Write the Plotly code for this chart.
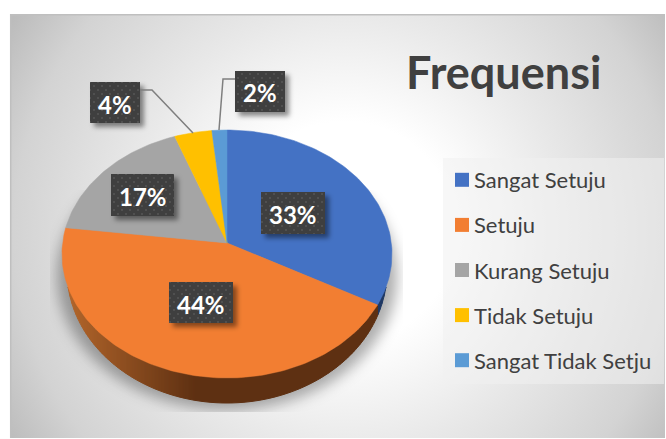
import base64
import numpy as np
import plotly.graph_objects as go

categories = ["Sangat Setuju", "Setuju", "Kurang Setuju", "Tidak Setuju", "Sangat Tidak Setju"]
values = [33, 44, 17.4, 4.0, 1.6]
percent_labels = ["33%", "44%", "17%", "4%", "2%"]
colors = ["#4472C4", "#F27E32", "#A5A5A5", "#FFC000", "#5B9BD5"]

W, H = 666, 439
CX, CY, RX, RY = 227, 254, 165, 124   # top face
BX, BY, BRX, BRY = 227, 271, 160, 132  # base outline
K = 0.089                              # perspective shift of the pie centre


def project(frac):
    """Fraction of the pie (clockwise from 12 o'clock) -> pixel position, in tilted perspective."""
    a = 2 * np.pi * np.asarray(frac)
    u, v = np.sin(a), np.cos(a)
    d = 1 + K * v
    X = u * np.sqrt(1 - K ** 2) / d
    Y = (v + K) / d
    return CX + RX * X, CY - RY * Y


def lerp_hex(a, b, t):
    ca = [int(a[i:i + 2], 16) for i in (1, 3, 5)]
    cb = [int(b[i:i + 2], 16) for i in (1, 3, 5)]
    return "#" + "".join(f"{round(p + (q - p) * t):02x}" for p, q in zip(ca, cb))


bg_svg = f"""<svg xmlns='http://www.w3.org/2000/svg' width='{W}' height='{H}' viewBox='0 0 {W} {H}'>
<defs>
<radialGradient id='g' gradientUnits='userSpaceOnUse' cx='345' cy='232' r='394'>
<stop offset='0' stop-color='#ffffff'/><stop offset='0.28' stop-color='#ffffff'/>
<stop offset='0.55' stop-color='#e9e9e9'/><stop offset='0.84' stop-color='#d3d3d3'/><stop offset='1' stop-color='#bcbcbc'/>
</radialGradient>
<filter id='b' x='-20%' y='-20%' width='140%' height='140%'><feGaussianBlur stdDeviation='7'/></filter>
<clipPath id='c'><rect x='50' y='190' width='353' height='222'/></clipPath>
</defs>
<rect width='{W}' height='{H}' fill='#ffffff'/>
<rect x='10' y='14' width='655' height='424' fill='url(#g)'/>
<path d='M10.7 438 V14.7 H665' fill='none' stroke='#bfbfbf' stroke-width='1.5'/>
<g clip-path='url(#c)'><ellipse cx='227' cy='276' rx='170' ry='134' fill='#000000' fill-opacity='0.32' filter='url(#b)'/></g>
</svg>"""

boxes = [(261, 192, 64, 42), (169, 282, 64, 41), (111, 174, 63, 42), (90, 82, 50, 41), (235, 71, 50, 41)]
box_svg = "".join(
    f"<rect x='{x+4}' y='{y+4}' width='{w}' height='{h}' fill='#000' fill-opacity='0.45' filter='url(#s)'/>"
    f"<rect x='{x}' y='{y}' width='{w}' height='{h}' fill='url(#p)'/>" for x, y, w, h in boxes)
over_svg = f"""<svg xmlns='http://www.w3.org/2000/svg' width='{W}' height='{H}' viewBox='0 0 {W} {H}'>
<defs>
<pattern id='p' width='8' height='8' patternUnits='userSpaceOnUse'>
<rect width='8' height='8' fill='#3f3f3f'/><circle cx='2' cy='2' r='1' fill='#555555'/><circle cx='6' cy='6' r='1' fill='#555555'/></pattern>
<filter id='s' x='-30%' y='-30%' width='160%' height='160%'><feGaussianBlur stdDeviation='2.5'/></filter>
</defs>{box_svg}</svg>"""


def data_uri(svg):
    return "data:image/svg+xml;base64," + base64.b64encode(svg.encode()).decode()


fig = go.Figure()
cum = np.concatenate([[0], np.cumsum(values)]) / sum(values)

# side wall: vertical strips between top-face edge and base outline
split_x = project(cum[1])[0]
xs = np.arange(66, 392, 2.0)
for x0 in xs:
    seg = np.linspace(x0, x0 + 2.0, 3)
    if np.abs(seg - BX).max() >= BRX:
        continue
    top = CY + RY * np.sqrt(np.clip(1 - ((seg - CX) / RX) ** 2, 0, 1))
    bot = BY + BRY * np.sqrt(1 - ((seg - BX) / BRX) ** 2)
    if (bot - top).max() <= 0:
        continue
    bot = np.maximum(bot, top)
    if x0 >= split_x - 1:
        col = "#1f3864"
    else:
        col = lerp_hex("#b0642a", "#5e3012", min(1, max(0, (x0 - 70) / 125)))
    fig.add_trace(go.Scatter(x=np.r_[seg, seg[::-1]], y=np.r_[top, bot[::-1]], mode="lines", fill="toself",
                             fillcolor=col, line=dict(width=1, color=col), hoverinfo="skip", showlegend=False))

# top-face slices
CENTRE = (CX, CY + RY * -K)
for i, (name, col) in enumerate(zip(categories, colors)):
    fr = np.linspace(cum[i], cum[i + 1], max(4, int(values[i] * 3)))
    px, py = project(fr)
    fig.add_trace(go.Scatter(x=np.r_[CENTRE[0], px, CENTRE[0]], y=np.r_[CENTRE[1], py, CENTRE[1]],
                             mode="lines", fill="toself", fillcolor=col, line=dict(width=0.5, color=col),
                             hoverinfo="text", text=f"{name}: {percent_labels[i]}", showlegend=False))

# legend entries
for name, col in zip(categories, colors):
    fig.add_trace(go.Scatter(x=[None], y=[None], mode="markers", name=name, legendgroup=name,
                             marker=dict(symbol="square", size=14, color=col)))

label_pos = [(293, 214), (201, 304), (142.5, 196), (115, 104), (260, 92)]
annotations = [dict(x=x, y=y, xref="x", yref="y", text=f"<b>{t}</b>", showarrow=False,
                    font=dict(family="Lato", size=24, color="#ffffff"))
               for (x, y), t in zip(label_pos, percent_labels)]
annotations.append(dict(x=503, y=72, xref="x", yref="y", text="<b>Frequensi</b>", showarrow=False,
                        font=dict(family="Lato", size=45, color="#404040")))

shapes = [
    dict(type="rect", layer="below", x0=443, y0=158, x1=664, y1=384, xref="x", yref="y",
         fillcolor="rgba(240,240,240,0.55)", line=dict(width=0)),
    dict(type="path", path="M140,90 L152,90 L193,133", xref="x", yref="y", line=dict(color="#7f7f7f", width=1.5)),
    dict(type="path", path="M235,79 L223,79 L219,130", xref="x", yref="y", line=dict(color="#7f7f7f", width=1.5)),
]

fig.update_layout(
    width=W, height=H, margin=dict(l=0, r=0, t=0, b=0),
    paper_bgcolor="#ffffff", plot_bgcolor="rgba(0,0,0,0)",
    xaxis=dict(range=[0, W], visible=False, fixedrange=True),
    yaxis=dict(range=[H, 0], visible=False, fixedrange=True),
    images=[
        dict(source=data_uri(bg_svg), xref="paper", yref="paper", x=0, y=1, sizex=1, sizey=1,
             sizing="stretch", layer="below", xanchor="left", yanchor="top"),
        dict(source=data_uri(over_svg), xref="paper", yref="paper", x=0, y=1, sizex=1, sizey=1,
             sizing="stretch", layer="above", xanchor="left", yanchor="top"),
    ],
    shapes=shapes, annotations=annotations,
    legend=dict(x=(432 + 2) / W, y=1 - 159 / H, xanchor="left", yanchor="top", bgcolor="rgba(0,0,0,0)",
                font=dict(family="Lato", size=22, color="#404040"), tracegroupgap=13.5, itemwidth=30),
    showlegend=True,
)
fig.write_html("out.html", config={"displayModeBar": False},
               post_script="document.body.style.margin='0';document.body.style.overflow='hidden';"
                           "document.querySelectorAll('.legendsymbols').forEach(function(n){n.setAttribute('transform','translate(8,0)');});")
